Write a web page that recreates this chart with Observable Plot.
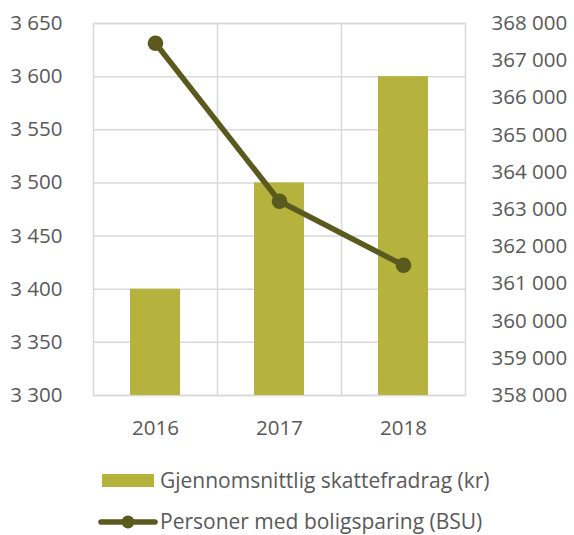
<!DOCTYPE html>
<html><head><meta charset="utf-8">
<script src="https://cdn.jsdelivr.net/npm/d3@7"></script>
<script src="https://cdn.jsdelivr.net/npm/@observablehq/plot@0.6"></script>
<style>
html,body{margin:0;padding:0;background:#fff;}
body{width:574px;height:535px;overflow:hidden;position:relative;font-family:"Open Sans",sans-serif;color:#595959;}
#chart{position:absolute;left:0;top:0;}
#legend{position:absolute;left:0;top:450px;}
</style></head><body>
<div id="chart"></div>
<svg id="legend" width="574" height="85" font-family="'Open Sans', sans-serif" font-size="21" fill="#595959">
  <rect x="102" y="24" width="52" height="13" fill="#b5b33e"/>
  <text x="160" y="38">Gjennomsnittlig skattefradrag (kr)</text>
  <line x1="101" x2="155" y1="72" y2="72" stroke="#5b5a1e" stroke-width="5.5" stroke-linecap="round"/>
  <circle cx="128" cy="72" r="6.5" fill="#5b5a1e"/>
  <text x="160" y="79">Personer med boligsparing (BSU)</text>
</svg>
<script>
const years = ["2016", "2017", "2018"];
const skattefradrag = [3400, 3500, 3600];
const bsu = [367470, 363220, 361500];
const leftTicks = [3300, 3350, 3400, 3450, 3500, 3550, 3600, 3650];
const rightTicks = [358000, 359000, 360000, 361000, 362000, 363000, 364000, 365000, 366000, 367000, 368000];

const leftDomain = [leftTicks[0], leftTicks[leftTicks.length - 1]];
const rightDomain = [rightTicks[0], rightTicks[rightTicks.length - 1]];
const toLeft = d3.scaleLinear(rightDomain, leftDomain);
const fmt = d3.formatLocale({thousands: "\u00a0", grouping: [3], decimal: ",", currency: ["", ""]}).format(",d");

const data = years.map((y, i) => ({year: y, value: skattefradrag[i], bsu: bsu[i]}));

const W = 574, ml = 93, mr = 109;
const step = (W - ml - mr) / years.length;
const grid = "#d9d9d9";
const barColor = "#b5b33e";
const lineColor = "#5b5a1e";

const chart = Plot.plot({
  width: W, height: 450,
  marginTop: 23, marginBottom: 55, marginLeft: ml, marginRight: mr,
  style: {fontFamily: "'Open Sans', sans-serif", fontSize: "20.5px", color: "#595959", background: "white", overflow: "visible"},
  x: {domain: years, paddingInner: 0.6, paddingOuter: 0.3, label: null},
  y: {domain: leftDomain, label: null},
  marks: [
    Plot.ruleY(leftTicks, {stroke: grid, strokeWidth: 1.5}),
    Plot.ruleX(years.slice(1), {dx: -step / 2, stroke: grid, strokeWidth: 1.5}),
    Plot.frame({stroke: grid, strokeWidth: 1.5}),
    Plot.barY(data, {x: "year", y1: leftDomain[0], y2: "value", fill: barColor}),
    Plot.line(data, {x: "year", y: d => toLeft(d.bsu), stroke: lineColor, strokeWidth: 5.5}),
    Plot.dot(data, {x: "year", y: d => toLeft(d.bsu), r: 7.8, fill: lineColor, stroke: "none"}),
    Plot.axisY(leftTicks, {anchor: "left", tickSize: 0, tickPadding: 31, tickFormat: fmt, label: null}),
    Plot.axisY(rightTicks.map(toLeft), {anchor: "right", tickSize: 0, tickPadding: 26, tickFormat: v => fmt(Math.round(toLeft.invert(v))), label: null}),
    Plot.axisX({tickSize: 0, tickPadding: 25, label: null})
  ]
});
document.getElementById("chart").appendChild(chart);
</script>
</body></html>
